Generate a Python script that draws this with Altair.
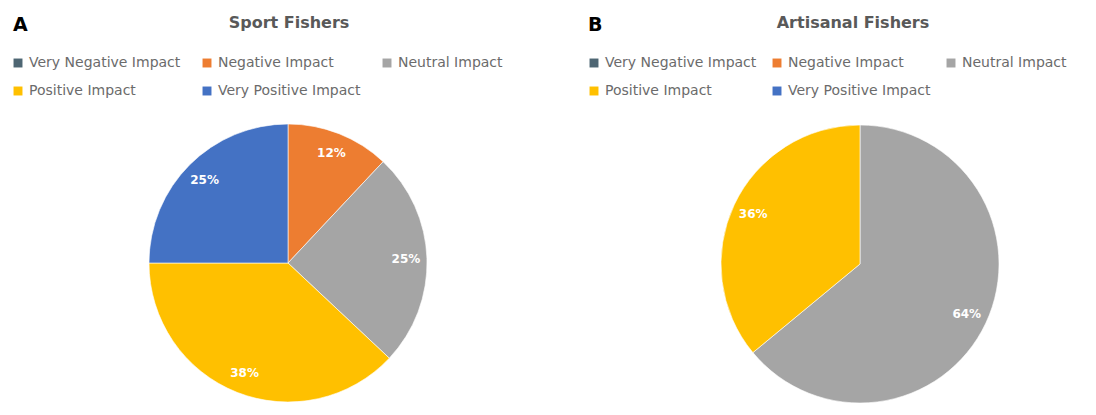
import altair as alt
import pandas as pd

categories = ["Very Negative Impact", "Negative Impact", "Neutral Impact",
              "Positive Impact", "Very Positive Impact"]
colors = ["#4E6673", "#ED7D31", "#A5A5A5", "#FFC000", "#4472C4"]
sport_values = [0, 12, 25, 38, 25]
artisanal_values = [0, 0, 64, 36, 0]
panel_titles = ["Sport Fishers", "Artisanal Fishers"]
panel_letters = ["A", "B"]


def make_df(values):
    return pd.DataFrame({
        "category": categories,
        "value": values,
        "idx": list(range(len(categories))),
        "label": [f"{v}%" for v in values],
    })


def pie(df, cx, cy, lx, ly, colpad):
    base = alt.Chart(df).transform_filter("datum.value > 0")
    arc = base.mark_arc(outerRadius=139, stroke="white", strokeWidth=0.6).encode(
        theta=alt.Theta("value:Q", stack=True),
        order=alt.Order("idx:Q"),
        color=alt.Color(
            "category:N",
            scale=alt.Scale(domain=categories, range=colors),
            legend=alt.Legend(
                title=None, orient="none", legendX=lx, legendY=ly, columns=3,
                direction="horizontal",
                symbolType="square", symbolSize=80, symbolStrokeWidth=0,
                labelFontSize=14, labelColor="#6b6b6b", labelFont="DejaVu Sans",
                labelLimit=400, rowPadding=14, columnPadding=colpad,
            ),
        ),
        x=alt.value(cx), y=alt.value(cy),
    )
    text = base.mark_text(radius=118, fontWeight="bold", color="white",
                          fontSize=12, font="DejaVu Sans").encode(
        theta=alt.Theta("value:Q", stack=True),
        order=alt.Order("idx:Q"),
        text="label:N",
        x=alt.value(cx), y=alt.value(cy),
    )
    return arc, text


arcA, textA = pie(make_df(sport_values), 280, 255, 3, 48, 19)
arcB, textB = pie(make_df(artisanal_values), 852, 256, 579, 48, 13)


def label(txt, x, y, size, color, align):
    return alt.Chart(pd.DataFrame({"t": [txt]})).mark_text(
        fontSize=size, fontWeight="bold", color=color, align=align,
        baseline="middle", font="DejaVu Sans",
    ).encode(text="t:N", x=alt.value(x), y=alt.value(y))


titleA = label(panel_titles[0], 281, 15, 16, "#595959", "center")
titleB = label(panel_titles[1], 845, 15, 16, "#595959", "center")
letterA = label(panel_letters[0], 5, 17, 19, "#000000", "left")
letterB = label(panel_letters[1], 580, 17, 19, "#000000", "left")

chart = alt.layer(arcA, textA, arcB, textB, titleA, titleB, letterA, letterB).resolve_scale(
    color="independent"
).resolve_legend(color="independent").properties(
    width=1080, height=399, padding=0, autosize="none"
).configure_view(stroke=None)

chart.save("out.html", embed_options={"renderer": "svg", "actions": False})
